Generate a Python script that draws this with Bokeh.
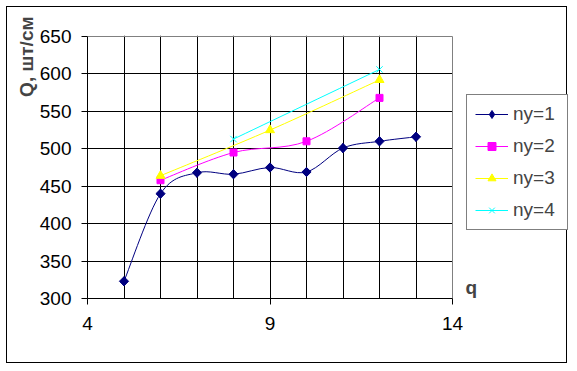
import numpy as np
from bokeh.plotting import figure
from bokeh.models import (Range1d, FixedTicker, Legend, LegendItem, Label, Title,
                          BoxAnnotation)
from bokeh.embed import file_html
from bokeh.resources import INLINE

# ---- data ----
x_ny1 = [5, 6, 7, 8, 9, 10, 11, 12, 13]
y_ny1 = [323, 440, 468, 466, 475, 469, 501, 510, 516]
x_ny2 = [6, 8, 10, 12]
y_ny2 = [458, 495, 510, 568]
x_ny3 = [6, 9, 12]
y_ny3 = [464, 525, 592]
x_ny4 = [8, 12]
y_ny4 = [513, 606]
series_names = ["ny=1", "ny=2", "ny=3", "ny=4"]
x_ticks = [4, 9, 14]
y_ticks = [300, 350, 400, 450, 500, 550, 600, 650]
y_title = "Q, шт/см"
x_title = "q"

series = [(x_ny1, y_ny1), (x_ny2, y_ny2), (x_ny3, y_ny3), (x_ny4, y_ny4)]
colors = ["#000080", "#FF00FF", "#FFFF00", "#00FFFF"]
# (marker, size, angle) in the plot; optional separate marker for the legend swatch
markers = [("square", 6.5, np.pi / 4), ("square", 7, 0), ("triangle", 9, 0), ("x", 9, 0)]
legend_markers = [("diamond", 9), None, None, None]
FONT = "Liberation Sans"

# ---- layout (pixels) ----
W, H = 561, 357
LEFT, TOP = 80, 28
PLOT_W, PLOT_H = 365, 262          # pixel size of the data region (4..14, 300..650)
FRAME_W = W - LEFT                  # frame extends to the right edge (legend lives there)
FRAME_H = PLOT_H + 1
BOTTOM = H - TOP - FRAME_H

x0, x1 = x_ticks[0], x_ticks[-1]
y0, y1 = y_ticks[0], y_ticks[-1]
x_end = x0 + (x1 - x0) * FRAME_W / PLOT_W
y_end = y0 + (y1 - y0) * FRAME_H / PLOT_H


def smooth(xs, ys):
    """Catmull-Rom style Bezier control points (Excel 'smoothed line')."""
    P = np.column_stack([np.asarray(xs, float), np.asarray(ys, float)])
    n = len(P)
    seg = dict(x0=[], y0=[], x1=[], y1=[], cx0=[], cy0=[], cx1=[], cy1=[])
    for i in range(n - 1):
        p0 = P[max(i - 1, 0)]
        p1 = P[i]
        p2 = P[i + 1]
        p3 = P[min(i + 2, n - 1)]
        c0 = p1 + (p2 - p0) / 6.0
        c1 = p2 - (p3 - p1) / 6.0
        seg["x0"].append(p1[0]); seg["y0"].append(p1[1])
        seg["x1"].append(p2[0]); seg["y1"].append(p2[1])
        seg["cx0"].append(c0[0]); seg["cy0"].append(c0[1])
        seg["cx1"].append(c1[0]); seg["cy1"].append(c1[1])
    return seg


p = figure(width=W, height=H, output_backend="svg", toolbar_location=None,
           x_range=Range1d(x0, x_end), y_range=Range1d(y0, y_end),
           min_border_left=LEFT, min_border_right=0, min_border_top=TOP,
           min_border_bottom=BOTTOM)
p.styles = {"border": "1px solid black", "margin-left": "6px", "margin-top": "6px"}
p.background_fill_color = "white"
p.border_fill_color = "white"
p.outline_line_color = None

# grid
p.xgrid.ticker = FixedTicker(ticks=list(range(x0 + 1, x1)))
p.ygrid.ticker = FixedTicker(ticks=y_ticks[1:-1])
for g in (p.xgrid, p.ygrid):
    g.grid_line_color = "black"
    g.grid_line_width = 1
    g.level = "underlay"
# hide the grid to the right of the plot area (legend region)
p.add_layout(BoxAnnotation(left=x1, fill_color="white", fill_alpha=1, line_color=None,
                           level="underlay"))

# gray plot-area border (top and right)
p.segment(x0=[x0, x1], y0=[y1, y0], x1=[x1, x1], y1=[y1, y1], line_color="#808080",
          line_width=1)

# axes
p.xaxis.ticker = FixedTicker(ticks=x_ticks)
p.yaxis.ticker = FixedTicker(ticks=y_ticks)
p.xaxis.bounds = (x0, x1)
p.yaxis.bounds = (y0, y1)
for ax in (p.xaxis, p.yaxis):
    ax.axis_line_color = "black"
    ax.major_tick_line_color = "black"
    ax.major_tick_out = 6
    ax.major_tick_in = 0
    ax.minor_tick_line_color = None
    ax.major_label_text_font = FONT
    ax.major_label_text_font_size = "19px"
    ax.major_label_text_color = "black"
p.xaxis.major_label_standoff = 12
p.yaxis.major_label_standoff = 10

items = []
for (xs, ys), c, (mk, sz, ang), lm, name in zip(series, colors, markers,
                                                  legend_markers, series_names):
    r_line = p.bezier(source=smooth(xs, ys), x0="x0", y0="y0", x1="x1", y1="y1",
                      cx0="cx0", cy0="cy0", cx1="cx1", cy1="cy1", line_color=c, line_width=1)
    r_swatch = None
    if lm is not None:
        # drawn underneath the plot marker (fully covered); used for the legend swatch
        r_swatch = p.scatter(xs, ys, marker=lm[0], size=lm[1], fill_color=c, line_color=c,
                             line_width=1)
    r_pts = p.scatter(xs, ys, marker=mk, size=sz, angle=ang, fill_color=c, line_color=c,
                      line_width=1)
    items.append(LegendItem(label=name, renderers=[r_line, r_swatch or r_pts]))

legend = Legend(items=items, location=(379, 68), orientation="vertical",
                label_text_font=FONT, label_text_font_size="19px",
                glyph_width=33, glyph_height=20, label_height=20, label_width=46,
                label_standoff=5, spacing=10, padding=8, margin=0,
                border_line_color="black", border_line_width=1,
                background_fill_color="white", background_fill_alpha=1)
p.add_layout(legend, "center")

p.add_layout(Title(text=y_title, align="right", offset=-19, standoff=0,
                   text_font=FONT, text_font_size="19px", text_font_style="bold"), "left")
p.add_layout(Label(x=378, y=1, x_units="screen", y_units="screen", text=x_title,
                   text_align="left", text_baseline="bottom",
                   text_font=FONT, text_font_size="19px", text_font_style="bold"))

open("out.html", "w").write(file_html(p, INLINE))
